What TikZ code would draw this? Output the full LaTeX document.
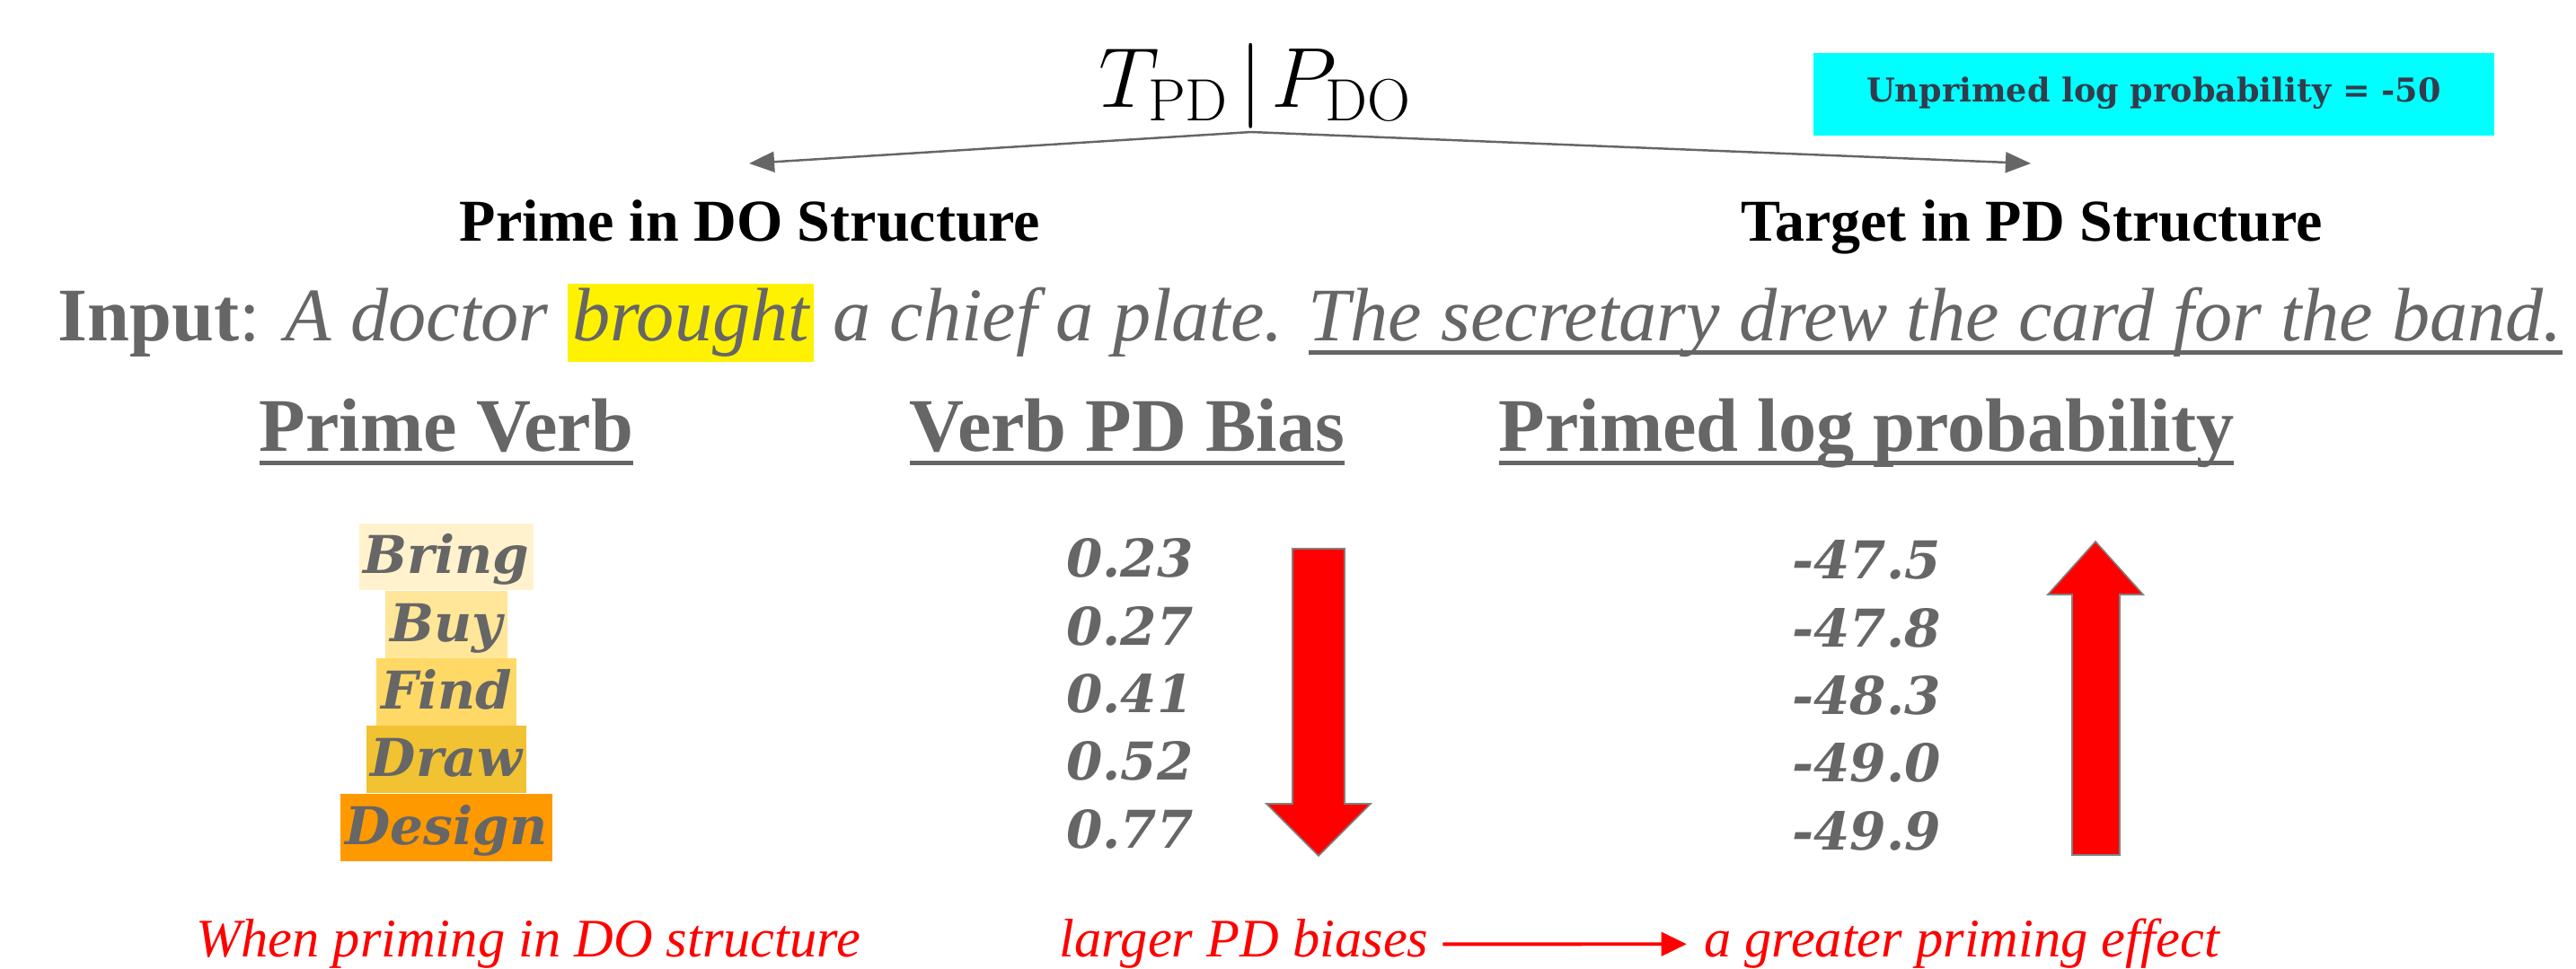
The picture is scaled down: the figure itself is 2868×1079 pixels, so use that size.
\RequirePackage{fix-cm}
\documentclass[tikz,border=0pt]{standalone}
\usepackage[no-math]{fontspec}
\setmainfont{Liberation Serif}
\newfontfamily\djserif{DejaVu Serif}
\usepackage{amsmath}
\usetikzlibrary{arrows.meta, positioning, calc}

\setlength{\fboxsep}{1.5pt}
% underline drawn as a rule under the text
\newsavebox\ulbox
\newcommand{\ulined}[1]{\sbox\ulbox{#1}\rlap{\rule[-4.4pt]{\wd\ulbox}{1.5pt}}\usebox\ulbox}

\definecolor{txtgray}{HTML}{666666}
\definecolor{linegray}{HTML}{666666}
\definecolor{slate}{HTML}{333C4C}
\definecolor{aqua}{HTML}{00FFFF}
\definecolor{verbA}{HTML}{FFF2CC}
\definecolor{verbB}{HTML}{FFE699}
\definecolor{verbC}{HTML}{FFD966}
\definecolor{verbD}{HTML}{F1C232}
\definecolor{verbE}{HTML}{FF9900}

\tikzset{
  heading/.style={anchor=base, font=\fontsize{18.8}{22}\selectfont\bfseries, text=black},
  colhead/.style={anchor=base, font=\fontsize{24}{28}\selectfont\bfseries, text=txtgray},
  verb/.style={fill=#1, text=txtgray, font=\djserif\fontsize{16.5}{20}\selectfont\bfseries\itshape,
               inner xsep=1.5pt, inner ysep=2.15pt, text height=13.9pt, text depth=3.1pt},
  num/.style={text=txtgray, font=\djserif\fontsize{16.5}{20}\selectfont\bfseries\itshape,
              inner ysep=2.15pt, text height=13.9pt, text depth=3.1pt},
  note/.style={anchor=base, text=red, font=\fontsize{17.2}{20}\selectfont\itshape},
  split/.style={-{Triangle[length=8pt, width=6.5pt]}, draw=linegray, line width=0.7pt},
  notearrow/.style={-{Triangle[length=8pt, width=7.5pt]}, draw=red, line width=1.1pt,
                    shorten <=1pt, shorten >=2pt},
  bigarrow/.style={fill=red, draw=gray, line width=0.45pt, line join=miter},
}

\begin{document}
\begin{tikzpicture}[x=0.1mm, y=-0.1mm]
\useasboundingbox (0,0) rectangle (2868,1079);
\fill[white] (0,0) rectangle (2868,1079);

% conditional probability and its two parts
\node[anchor=base, inner sep=0pt, font=\fontsize{27}{32}\selectfont] (cond) at (1398,120)
  {$T_{\mathrm{PD}}\mkern2mu|\mkern2mu P_{\mathrm{DO}}$};
\coordinate (apex) at (1393,147);
\coordinate (ptip) at (834,182);
\coordinate (ttip) at (2261,182);
\draw[split] (apex) -- (ptip);
\draw[split] (apex) -- (ttip);

\node[fill=aqua, anchor=south, minimum width=7.58cm, inner ysep=3pt,
      text height=12.4pt, text depth=7.8pt, text=slate,
      font=\djserif\fontsize{10.4}{12}\selectfont\bfseries] (unprimed) at (2398,152)
  {Unprimed log probability = -50};

\node[heading] (prime) at (835,269) {Prime in DO Structure};
\node[heading] (target) at (2262,269) {Target in PD Structure};

% input sentence pair
\node[anchor=base west, inner sep=0pt, text=txtgray, font=\fontsize{24}{28}\selectfont] (input) at (64,380)
  {\textbf{Input}: \textit{A doctor \colorbox{yellow}{brought} a chief a plate. \ulined{The secretary drew the card for the band.}}};

% column titles
\node[colhead] (hverb) at (497,503) {\ulined{Prime Verb}};
\node[colhead] (hbias) at (1255,503) {\ulined{Verb PD Bias}};
\node[colhead] (hprob) at (2078,503) {\ulined{Primed log probability}};

% table rows
\foreach \v/\c [count=\k from 0] in {Bring/verbA, Buy/verbB, Find/verbC, Draw/verbD, Design/verbE}
  \node[verb=\c] (verb\k) at (497,620+75.3*\k) {\v};
\foreach \b [count=\k from 0] in {0.23, 0.27, 0.41, 0.52, 0.77}
  \node[num] (bias\k) at (1258,624+75.3*\k) {\b};
\foreach \p [count=\k from 0] in {-47.5, -47.8, -48.3, -49.0, -49.9}
  \node[num] (prob\k) at (2078,626+75.3*\k) {\p};

% trend arrows
\draw[bigarrow] (1439,611) -- (1497,611) -- (1497,895) -- (1526,895) -- (1468,953)
  -- (1410,895) -- (1439,895) -- cycle;
\draw[bigarrow] (2307,952) -- (2360,952) -- (2360,662) -- (2386,662) -- (2333,603)
  -- (2280,662) -- (2307,662) -- cycle;

% conclusion
\node[note] (when) at (588,1066) {When priming in DO structure};
\node[note] (larger) at (1385,1066) {larger PD biases};
\node[note] (effect) at (2184,1066) {a greater priming effect};
\draw[notearrow] (larger) -- (effect);

\end{tikzpicture}
\end{document}
